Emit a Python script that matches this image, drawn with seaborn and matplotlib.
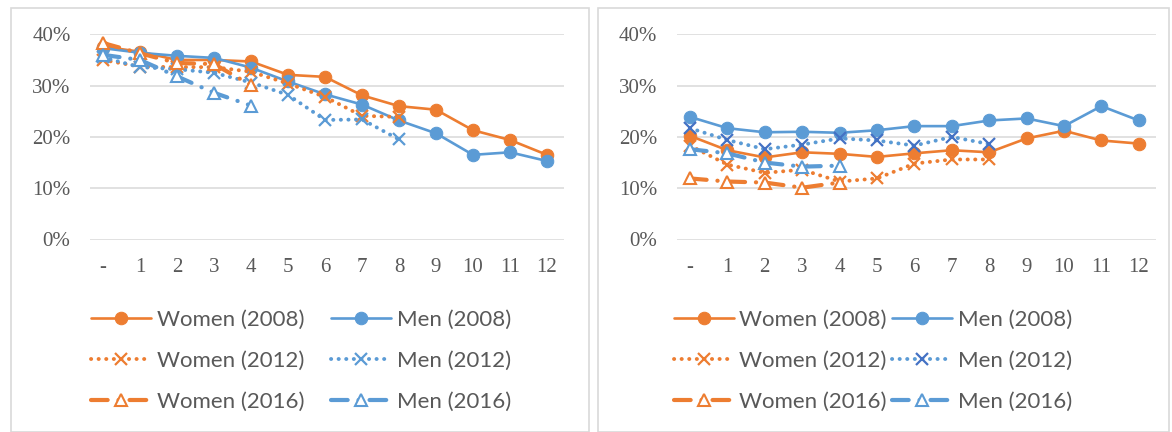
import numpy as np
import pandas as pd
import matplotlib
matplotlib.use("Agg")
import matplotlib.pyplot as plt
from matplotlib.patches import Rectangle
from matplotlib.ticker import PercentFormatter
import seaborn as sns

sns.set_theme(style="white")

categories = ["-", "1", "2", "3", "4", "5", "6", "7", "8", "9", "10", "11", "12"]

# Left panel
left_women_2008 = [37.6, 36.6, 35.0, 35.0, 34.7, 32.1, 31.7, 28.1, 26.0, 25.3, 21.3, 19.4, 16.5]
left_men_2008   = [37.3, 36.4, 35.8, 35.4, 33.5, 30.8, 28.3, 26.3, 23.2, 20.7, 16.5, 17.0, 15.3]
left_women_2012 = [35.0, 33.7, 33.6, 33.6, 32.7, 30.4, 27.8, 24.1, 23.9]
left_men_2012   = [35.5, 33.6, 33.2, 32.5, 30.6, 28.2, 23.3, 23.4, 19.5]
left_women_2016 = [38.3, 36.3, 34.4, 34.2, 30.1]
left_men_2016   = [36.0, 35.0, 31.8, 28.6, 26.1]

# Right panel
right_women_2008 = [20.2, 17.4, 16.0, 17.0, 16.7, 16.1, 16.8, 17.4, 17.0, 19.7, 21.2, 19.3, 18.7]
right_men_2008   = [23.9, 21.7, 20.9, 21.0, 20.8, 21.3, 22.1, 22.1, 23.2, 23.6, 22.1, 26.0, 23.2]
right_women_2012 = [18.3, 14.6, 13.0, 13.6, 11.3, 11.9, 14.8, 15.6, 15.6]
right_men_2012   = [21.7, 19.4, 17.6, 18.5, 19.7, 19.3, 18.3, 20.0, 18.6]
right_women_2016 = [11.9, 11.3, 11.1, 10.1, 11.1]
right_men_2016   = [17.6, 16.8, 15.0, 14.2, 14.4]

labels = ["Women (2008)", "Men (2008)", "Women (2012)", "Men (2012)",
          "Women (2016)", "Men (2016)"]

ORANGE = "#ED7D31"
BLUE = "#5B9BD5"
DARKBLUE = "#4472C4"
GRID = "#D9D9D9"
TXT = "#595959"

W, H = 1172, 432
fig = plt.figure(figsize=(W / 100, H / 100), dpi=100)
fig.patch.set_facecolor("white")

# panel borders
for x0, x1 in [(11, 589), (598, 1169)]:
    fig.patches.append(Rectangle((x0 / W, 0), (x1 - x0) / W, (H - 8) / H,
                                 transform=fig.transFigure, fill=False,
                                 edgecolor=GRID, linewidth=1.2, zorder=0))

solid = "-"
dotted = (0, (0.05, 1.9))
dashdot = (0, (4.0, 2.6, 0.05, 2.6))


def style_for(kind, color, xcolor=None):
    if kind == 2008:
        return dict(linestyle=solid, marker="o", markersize=9, color=color,
                    markerfacecolor=color, markeredgecolor=color, linewidth=1.9)
    if kind == 2012:
        return dict(linestyle=dotted, marker="x", markersize=9, color=color,
                    markeredgecolor=xcolor or color, markeredgewidth=1.6,
                    linewidth=2.8, dash_capstyle="round")
    return dict(linestyle=dashdot, marker="^", markersize=9, color=color,
                markerfacecolor="white", markeredgecolor=color, markeredgewidth=1.5,
                linewidth=3.0, dash_capstyle="round")


def draw(ax, series, xcolor_men12):
    kinds = [2008, 2008, 2012, 2012, 2016, 2016]
    colors = [ORANGE, BLUE, ORANGE, BLUE, ORANGE, BLUE]
    for vals, lab, kind, col in zip(series, labels, kinds, colors):
        xc = xcolor_men12 if (kind == 2012 and col == BLUE) else None
        df = pd.DataFrame({"cat": categories[:len(vals)], "val": np.array(vals) / 100})
        kw = style_for(kind, col, xc)
        sns.lineplot(data=df, x="cat", y="val", ax=ax, sort=False, label=lab, **kw)
    ax.set_xlim(-0.35, 12.45)
    ax.set_ylim(0, 0.4)
    ax.set_yticks([0, 0.1, 0.2, 0.3, 0.4])
    ax.yaxis.set_major_formatter(PercentFormatter(1.0, decimals=0))
    ax.grid(axis="y", color=GRID, linewidth=1.1)
    ax.grid(axis="x", visible=False)
    for s in ax.spines.values():
        s.set_visible(False)
    ax.set_xlabel("")
    ax.set_ylabel("")
    ax.tick_params(axis="both", length=0, labelsize=15, labelcolor=TXT)
    ax.tick_params(axis="y", pad=14)
    ax.tick_params(axis="x", pad=13)
    for t in ax.get_xticklabels() + ax.get_yticklabels():
        t.set_fontfamily("Liberation Serif")
    h, l = ax.get_legend_handles_labels()
    ax.get_legend().remove()
    return h, l


def add_axes(x_dash, spacing):
    left = x_dash - 0.35 * spacing
    width = 12.8 * spacing
    bottom = (H - 239.5) / H
    height = 205.2 / H
    return fig.add_axes([left / W, bottom, width / W, height])


axL = add_axes(103, 37.0)
axR = add_axes(690, 37.4)

hL, lL = draw(axL, [left_women_2008, left_men_2008, left_women_2012, left_men_2012,
                    left_women_2016, left_men_2016], None)
hR, lR = draw(axR, [right_women_2008, right_men_2008, right_women_2012, right_men_2012,
                    right_women_2016, right_men_2016], DARKBLUE)

order = [0, 2, 4, 1, 3, 5]
for h, l, cx, colsp in [(hL, lL, 301, 1.2), (hR, lR, 873, 0.25)]:
    leg = fig.legend([h[i] for i in order], [l[i] for i in order], ncol=2,
                     loc="center", bbox_to_anchor=(cx / W, (H - 361) / H),
                     frameon=False, prop={"family": "Lato", "size": 16},
                     handlelength=2.7, handletextpad=0.25, columnspacing=colsp,
                     labelspacing=0.95, borderaxespad=0, borderpad=0)
    for t in leg.get_texts():
        t.set_color(TXT)

fig.savefig("out.png", dpi=100, facecolor="white")
